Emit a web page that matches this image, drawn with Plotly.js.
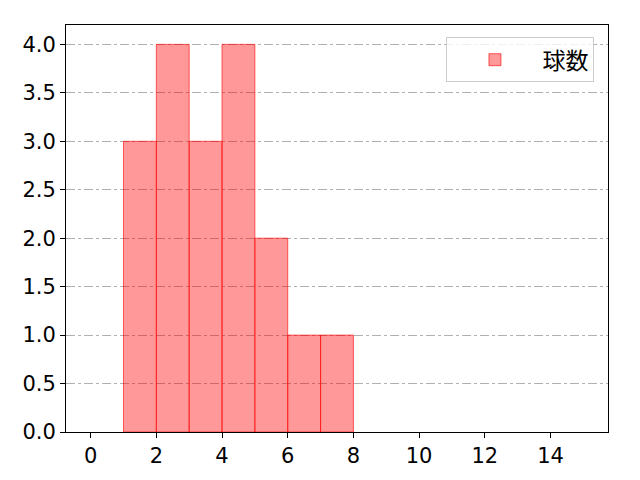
<!DOCTYPE html>
<html><head><meta charset="utf-8">
<script src="https://cdn.plot.ly/plotly-3.0.1.min.js"></script>
<style>body{margin:0;padding:0;background:#fff}#chart{width:640px;height:480px}</style>
</head><body><div id="chart"></div>
<script>
const binCenters = [1.5, 2.5, 3.5, 4.5, 5.5, 6.5, 7.5];
const counts = [3, 4, 3, 4, 2, 1, 1];
const seriesName = "球数";
const xTicks = [0, 2, 4, 6, 8, 10, 12, 14];
const yTicks = [0, 0.5, 1, 1.5, 2, 2.5, 3, 3.5, 4];

const tickFont = {family: "'DejaVu Sans', sans-serif", size: 21, color: '#000'};
Plotly.newPlot('chart', [{
  type: 'bar', x: binCenters, y: counts, width: 1, name: seriesName,
  marker: {color: 'rgba(255,0,0,0.4)', line: {color: 'rgba(255,0,0,0.6)', width: 1}}
}], {
  width: 640, height: 480,
  margin: {l: 66, r: 32, t: 25, b: 48},
  paper_bgcolor: '#fff', plot_bgcolor: '#fff',
  font: {family: "'Noto Sans CJK JP', sans-serif", size: 20, color: '#000'},
  showlegend: true,
  legend: {x: 0.975, y: 0.97, xanchor: 'right', yanchor: 'top', bordercolor: '#ccc', borderwidth: 1,
           bgcolor: 'rgba(255,255,255,0.8)', font: {size: 23}, itemwidth: 85},
  xaxis: {range: [-0.75, 15.75], tickvals: xTicks, ticktext: xTicks.map(String), ticks: 'outside', ticklen: 5,
          tickfont: tickFont,
          tickcolor: '#000', showgrid: false, zeroline: false, showline: true, linecolor: '#000', mirror: true},
  yaxis: {range: [0, 4.2], tickvals: yTicks, ticktext: yTicks.map(v => v.toFixed(1)), ticks: 'outside', ticklen: 5,
          tickfont: tickFont,
          tickcolor: '#000', showgrid: true, gridcolor: '#b0b0b0', griddash: 'dashdot', gridwidth: 1,
          zeroline: false, showline: true, linecolor: '#000', mirror: true}
}, {displayModeBar: false});
</script></body></html>
